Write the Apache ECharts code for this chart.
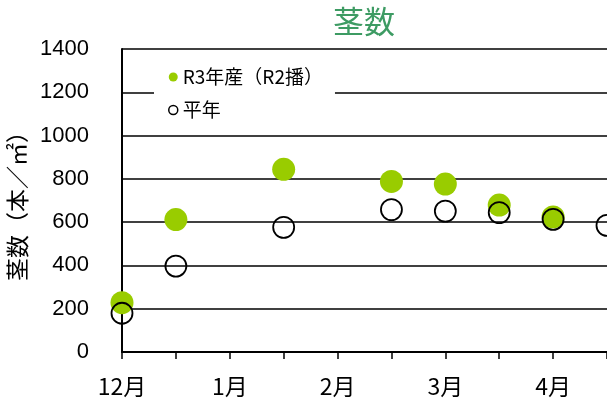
<!DOCTYPE html>
<html>
<head>
<meta charset="utf-8">
<script src="https://cdn.jsdelivr.net/npm/echarts@6/dist/echarts.min.js"></script>
<style>
html,body{margin:0;padding:0;background:#fff;}
#chart{width:607px;height:405px;}
</style>
</head>
<body>
<div id="chart"></div>
<script>
const categories = ['12月', '', '1月', '', '2月', '', '3月', '', '4月', ''];
const r3Values = [228, 612, null, 844, null, 788, 776, 679, 624, null];
const normalValues = [179, 397, null, 576, null, 658, 651, 644, 613, 585];
const yTicks = [0, 200, 400, 600, 800, 1000, 1200, 1400];
const seriesNames = ['R3年産（R2播）', '平年'];

const chart = echarts.init(document.getElementById('chart'), null, {renderer: 'canvas'});
const jp = '"Noto Sans CJK JP", sans-serif';
chart.setOption({
  animation: false,
  backgroundColor: '#fff',
  title: {
    text: '茎数',
    left: 333,
    top: 6,
    padding: 0,
    textStyle: {color: '#3d9b63', fontSize: 31, fontWeight: 'normal', fontFamily: jp}
  },
  legend: {
    orient: 'vertical',
    left: 154,
    top: 59,
    backgroundColor: '#fff',
    padding: [8, 12, 6, 14],
    itemGap: 13,
    itemWidth: 9,
    itemHeight: 9,
    textStyle: {fontSize: 19, fontFamily: jp, color: '#000', lineHeight: 20},
    data: [
      {name: seriesNames[0], icon: 'circle', itemStyle: {color: '#99cc00', borderWidth: 0}},
      {name: seriesNames[1], icon: 'circle', itemStyle: {color: '#fff', borderColor: '#000', borderWidth: 1.5}}
    ]
  },
  grid: {left: 122, right: 0, top: 49, bottom: 53, containLabel: false, outerBoundsMode: 'none'},
  xAxis: {
    type: 'category',
    data: categories,
    boundaryGap: false,
    axisLine: {lineStyle: {color: '#000', width: 2}},
    axisTick: {show: true, interval: 0, length: 7, lineStyle: {color: '#000', width: 1.5}},
    axisLabel: {interval: 0, margin: 23, fontSize: 23, fontFamily: jp, color: '#000'},
    splitLine: {show: false}
  },
  yAxis: {
    type: 'value',
    min: yTicks[0],
    max: yTicks[yTicks.length - 1],
    interval: 200,
    name: '茎数（本／㎡）',
    nameLocation: 'middle',
    nameGap: 90,
    nameTextStyle: {fontSize: 23, fontFamily: jp, color: '#000'},
    axisLine: {show: true, lineStyle: {color: '#000', width: 2}},
    axisTick: {show: false},
    axisLabel: {margin: 33, fontSize: 22, fontFamily: '"Liberation Sans", Arial, sans-serif', color: '#000',
      formatter: function (v) { return String(v); }},
    splitLine: {show: true, lineStyle: {color: '#000', width: 1.5}}
  },
  series: [
    {
      name: seriesNames[0],
      type: 'scatter',
      data: r3Values,
      symbol: 'circle',
      symbolSize: 23,
      itemStyle: {color: '#99cc00', opacity: 1},
      clip: false
    },
    {
      name: seriesNames[1],
      type: 'scatter',
      data: normalValues,
      symbol: 'circle',
      symbolSize: 21,
      itemStyle: {color: 'rgba(0,0,0,0)', borderColor: '#000', borderWidth: 1.8, opacity: 1},
      clip: false
    }
  ]
});
</script>
</body>
</html>
